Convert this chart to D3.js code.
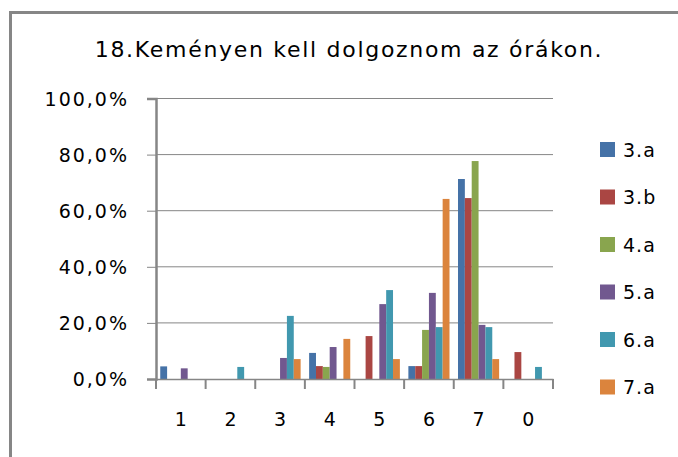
<!DOCTYPE html>
<html>
<head>
<meta charset="utf-8">
<script src="https://cdn.jsdelivr.net/npm/d3@7"></script>
<style>
html,body{margin:0;padding:0;background:#fff;}
text{font-family:"DejaVu Sans",sans-serif;fill:#000;}
</style>
</head>
<body>
<svg id="chart" width="678" height="457"></svg>
<script>
const title = "18.Keményen kell dolgoznom az órákon.";
const categories = ["1","2","3","4","5","6","7","0"];
const seriesNames = ["3.a","3.b","4.a","5.a","6.a","7.a"];
const colors = ["#4572A7","#AA4643","#89A54E","#71588F","#4198AF","#DB843D"];
const s3a = [4.5, 0, 0, 9.3, 0, 4.6, 71.3, 0];
const s3b = [0, 0, 0, 4.6, 15.3, 4.6, 64.5, 9.6];
const s4a = [0, 0, 0, 4.3, 0, 17.5, 77.7, 0];
const s5a = [3.8, 0, 7.5, 11.4, 26.7, 30.7, 19.3, 0];
const s6a = [0, 4.3, 22.5, 0, 31.7, 18.5, 18.5, 4.3];
const s7a = [0, 0, 7.1, 14.3, 7.1, 64.2, 7.1, 0];
const yTicks = [0, 20, 40, 60, 80, 100];

const seriesValues = [s3a, s3b, s4a, s5a, s6a, s7a];
const svg = d3.select("#chart");

// outer chart border (extends beyond right/bottom of view)
svg.append("rect").attr("x", 10.5).attr("y", 12.5).attr("width", 700).attr("height", 500)
  .attr("fill", "none").attr("stroke", "#868686").attr("stroke-width", 3);

const x = d3.scaleBand().domain(categories).range([156, 553]).paddingInner(0).paddingOuter(0);
const xs = d3.scaleBand().domain(seriesNames).range([0, x.bandwidth()]).paddingInner(0).paddingOuter(0.62);
const y = d3.scaleLinear().domain([0, 100]).range([379, 98.5]);

// gridlines
svg.append("g").selectAll("line").data(yTicks.filter(d => d > 0)).join("line")
  .attr("x1", 156).attr("x2", 553).attr("y1", d => y(d)).attr("y2", d => y(d))
  .attr("stroke", "#868686").attr("stroke-width", 1);

// bars
const g = svg.append("g");
seriesNames.forEach((name, si) => {
  g.append("g").selectAll("rect").data(seriesValues[si].map((v, i) => ({c: categories[i], v})))
    .join("rect")
    .attr("x", d => x(d.c) + xs(name))
    .attr("width", xs.bandwidth())
    .attr("y", d => y(d.v))
    .attr("height", d => y(0) - y(d.v))
    .attr("fill", colors[si]);
});

// y axis
const yAxis = d3.axisLeft(y).tickValues(yTicks).tickSize(9).tickPadding(18)
  .tickFormat(d => d3.format(".1f")(d).replace(".", ",") + "%");
const ya = svg.append("g").attr("transform", "translate(156,0)").call(yAxis);
ya.select(".domain").attr("stroke", "#868686").attr("stroke-width", 2.5);
ya.selectAll(".tick line").attr("stroke", "#868686").attr("stroke-width", 1);
ya.selectAll(".tick text").attr("font-size", 19).attr("letter-spacing", "2px")
  .attr("font-family", "DejaVu Sans").attr("fill", "#000").attr("dy", "0.36em");

// x axis
const xAxis = d3.axisBottom(x).tickSize(10).tickPadding(24).tickSizeOuter(0);
const xa = svg.append("g").attr("transform", "translate(0,379)").call(xAxis);
xa.select(".domain").attr("stroke", "#868686").attr("stroke-width", 1.5);
xa.selectAll(".tick line").attr("stroke", "#868686").attr("stroke-width", 2)
  .attr("transform", d => `translate(${-x.bandwidth()/2},0)`);
// extra boundary ticks at ends
xa.append("line").attr("x1", 553).attr("x2", 553).attr("y1", 0).attr("y2", 10)
  .attr("stroke", "#868686").attr("stroke-width", 2);
xa.selectAll(".tick text").attr("font-size", 19).attr("font-family", "DejaVu Sans").attr("fill", "#000");

// title
svg.append("text").attr("x", 349).attr("y", 57).attr("text-anchor", "middle")
  .attr("font-size", 22).attr("letter-spacing", "1.7px").text(title);

// legend
const leg = svg.append("g").selectAll("g").data(seriesNames).join("g")
  .attr("transform", (d, i) => `translate(600,${142 + i * 47.5})`);
leg.append("rect").attr("width", 15).attr("height", 15).attr("fill", (d, i) => colors[i]);
leg.append("text").attr("x", 23).attr("y", 14.5).attr("font-size", 19).attr("letter-spacing", "1px").text(d => d);
</script>
</body>
</html>
